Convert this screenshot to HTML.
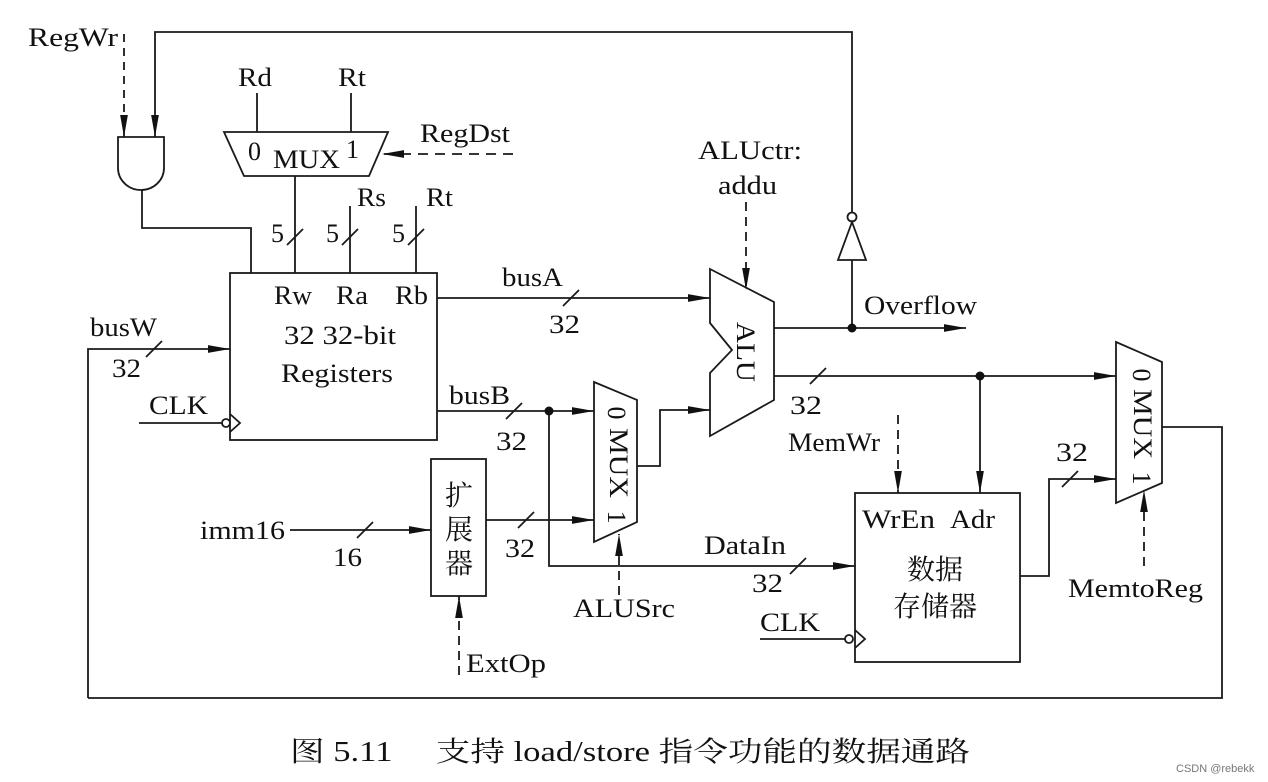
<!DOCTYPE html>
<html><head><meta charset="utf-8"><style>
html,body{margin:0;padding:0;background:#fff;}
svg{display:block;}
text{font-family:"Liberation Serif","Noto Serif CJK SC",serif;font-size:26px;fill:#111;}
.c{font-family:"Liberation Serif","Noto Serif CJK SC","Noto Sans CJK SC",serif;font-size:28px;}
</style></head><body>
<svg width="1268" height="782" viewBox="0 0 1268 782" xmlns="http://www.w3.org/2000/svg">
<defs>
<marker id="b" viewBox="0 0 20 10" refX="20" refY="5" markerWidth="22" markerHeight="11" markerUnits="userSpaceOnUse" orient="auto">
<path d="M0,1.5 L20,5 L0,8.5 z" fill="#111"/></marker>
</defs>
<g stroke="#1a1a1a" stroke-width="1.8" fill="none">
<path d="M124,34 V137" stroke-dasharray="8,6" marker-end="url(#b)"/>
<path d="M852,212 V32 H155 V137" marker-end="url(#b)"/>
<path d="M118,137 H164 V168 A23,22 0 0 1 118,168 Z"/>
<path d="M142,190 V228 H251 V273"/>
<path d="M257,93 V132 M351,93 V132"/>
<path d="M224,132 H388 L369,176 H244 Z"/>
<path d="M513,154 H382" stroke-dasharray="10,7" marker-end="url(#b)"/>
<path d="M295,176 V273 M350,206 V273 M416,206 V273"/>
<path d="M287,245 L303,229 M342,245 L358,229 M408,245 L424,229"/>
<rect x="230" y="273" width="207" height="167"/>
<path d="M88,698 V349 H230" marker-end="url(#b)"/>
<path d="M146,357 L162,341"/>
<path d="M139,423 H222"/>
<circle cx="226" cy="423" r="4"/>
<path d="M230,414 L240,423 L230,432"/>
<path d="M437,298 H710" marker-end="url(#b)"/>
<path d="M563,306 L579,290"/>
<path d="M437,411 H594" marker-end="url(#b)"/>
<path d="M506,419 L522,403"/>
<path d="M549,411 V566 H855" marker-end="url(#b)"/>
<path d="M790,574 L806,558"/>
<path d="M710,269 L774,302 V400 L710,436 V373 L732,350 L710,323 Z"/>
<path d="M746,202 V290" stroke-dasharray="9,6" marker-end="url(#b)"/>
<path d="M594,382 L637,400 V522 L594,542 Z"/>
<path d="M637,466 H660 V410 H710" marker-end="url(#b)"/>
<path d="M619,595 V534" stroke-dasharray="9,6" marker-end="url(#b)"/>
<rect x="431" y="459" width="55" height="137"/>
<path d="M290,530 H431" marker-end="url(#b)"/>
<path d="M357,538 L373,522"/>
<path d="M486,520 H594" marker-end="url(#b)"/>
<path d="M518,528 L534,512"/>
<path d="M459,675 V596" stroke-dasharray="9,6" marker-end="url(#b)"/>
<circle cx="852" cy="217" r="4.5"/>
<path d="M852,222 L838,260 H866 Z"/>
<path d="M852,260 V328"/>
<path d="M774,328 H966" marker-end="url(#b)"/>
<path d="M774,376 H1116" marker-end="url(#b)"/>
<path d="M810,384 L826,368"/>
<path d="M980,376 V493" marker-end="url(#b)"/>
<path d="M898,415 V493" stroke-dasharray="9,6" marker-end="url(#b)"/>
<rect x="855" y="493" width="165" height="169"/>
<path d="M760,639 H845"/>
<circle cx="849" cy="639" r="4"/>
<path d="M855,630 L865,639 L855,648"/>
<path d="M1020,576 H1049 V479 H1116" marker-end="url(#b)"/>
<path d="M1062,487 L1078,471"/>
<path d="M1116,342 L1162,362 V483 L1116,503 Z"/>
<path d="M1144,566 V490" stroke-dasharray="9,6" marker-end="url(#b)"/>
<path d="M1162,427 H1222 V698 H88"/>
</g>
<g fill="#111">
<circle cx="852" cy="328" r="4.5"/>
<circle cx="980" cy="376" r="4.5"/>
<circle cx="549" cy="411" r="4.5"/>
</g>
<g>
<text x="28" y="46" textLength="90" lengthAdjust="spacingAndGlyphs">RegWr</text>
<text x="238" y="86" textLength="34" lengthAdjust="spacingAndGlyphs">Rd</text>
<text x="338" y="86" textLength="28" lengthAdjust="spacingAndGlyphs">Rt</text>
<text x="248" y="160">0</text>
<text x="273" y="168" textLength="67" lengthAdjust="spacingAndGlyphs">MUX</text>
<text x="346" y="158">1</text>
<text x="420" y="142" textLength="90" lengthAdjust="spacingAndGlyphs">RegDst</text>
<text x="357" y="206" textLength="29" lengthAdjust="spacingAndGlyphs">Rs</text>
<text x="426" y="206" textLength="27" lengthAdjust="spacingAndGlyphs">Rt</text>
<text x="271" y="242">5</text>
<text x="326" y="242">5</text>
<text x="392" y="242">5</text>
<text x="274" y="304" textLength="38" lengthAdjust="spacingAndGlyphs">Rw</text>
<text x="336" y="304" textLength="32" lengthAdjust="spacingAndGlyphs">Ra</text>
<text x="395" y="304" textLength="33" lengthAdjust="spacingAndGlyphs">Rb</text>
<text x="284" y="344" textLength="112" lengthAdjust="spacingAndGlyphs">32 32-bit</text>
<text x="281" y="382" textLength="112" lengthAdjust="spacingAndGlyphs">Registers</text>
<text x="90" y="336" textLength="67" lengthAdjust="spacingAndGlyphs">busW</text>
<text x="112" y="377" textLength="29" lengthAdjust="spacingAndGlyphs">32</text>
<text x="149" y="414" textLength="59" lengthAdjust="spacingAndGlyphs">CLK</text>
<text x="502" y="286" textLength="61" lengthAdjust="spacingAndGlyphs">busA</text>
<text x="549" y="333" textLength="31" lengthAdjust="spacingAndGlyphs">32</text>
<text x="449" y="404" textLength="61" lengthAdjust="spacingAndGlyphs">busB</text>
<text x="496" y="450" textLength="31" lengthAdjust="spacingAndGlyphs">32</text>
<text x="698" y="159" textLength="104" lengthAdjust="spacingAndGlyphs">ALUctr:</text>
<text x="718" y="194" textLength="59" lengthAdjust="spacingAndGlyphs">addu</text>
<text transform="translate(743,352) rotate(90)" text-anchor="middle" dominant-baseline="middle" textLength="60" lengthAdjust="spacingAndGlyphs">ALU</text>
<text transform="translate(614,413) rotate(90)" text-anchor="middle" dominant-baseline="middle">0</text>
<text transform="translate(616,463) rotate(90)" text-anchor="middle" dominant-baseline="middle" textLength="70" lengthAdjust="spacingAndGlyphs">MUX</text>
<text transform="translate(614,517) rotate(90)" text-anchor="middle" dominant-baseline="middle">1</text>
<text x="864" y="314" textLength="113" lengthAdjust="spacingAndGlyphs">Overflow</text>
<text x="790" y="414" textLength="32" lengthAdjust="spacingAndGlyphs">32</text>
<text x="788" y="451" textLength="92" lengthAdjust="spacingAndGlyphs">MemWr</text>
<text x="1056" y="461" textLength="32" lengthAdjust="spacingAndGlyphs">32</text>
<text transform="translate(1139,375) rotate(90)" text-anchor="middle" dominant-baseline="middle">0</text>
<text transform="translate(1140,424) rotate(90)" text-anchor="middle" dominant-baseline="middle" textLength="70" lengthAdjust="spacingAndGlyphs">MUX</text>
<text transform="translate(1139,478) rotate(90)" text-anchor="middle" dominant-baseline="middle">1</text>
<text x="200" y="539" textLength="85" lengthAdjust="spacingAndGlyphs">imm16</text>
<text x="333" y="566" textLength="29" lengthAdjust="spacingAndGlyphs">16</text>
<text x="505" y="557" textLength="30" lengthAdjust="spacingAndGlyphs">32</text>
<text class="c" x="445" y="505">扩</text>
<text class="c" x="445" y="539">展</text>
<text class="c" x="445" y="573">器</text>
<text x="704" y="554" textLength="82" lengthAdjust="spacingAndGlyphs">DataIn</text>
<text x="752" y="592" textLength="31" lengthAdjust="spacingAndGlyphs">32</text>
<text x="760" y="631" textLength="60" lengthAdjust="spacingAndGlyphs">CLK</text>
<text x="862" y="528" textLength="73" lengthAdjust="spacingAndGlyphs">WrEn</text>
<text x="950" y="528" textLength="45" lengthAdjust="spacingAndGlyphs">Adr</text>
<text class="c" x="935" y="579" text-anchor="middle">数据</text>
<text class="c" x="935" y="616" text-anchor="middle">存储器</text>
<text x="573" y="617" textLength="102" lengthAdjust="spacingAndGlyphs">ALUSrc</text>
<text x="466" y="672" textLength="80" lengthAdjust="spacingAndGlyphs">ExtOp</text>
<text x="1068" y="597" textLength="135" lengthAdjust="spacingAndGlyphs">MemtoReg</text>
<text class="c" x="290" y="761" textLength="680" lengthAdjust="spacingAndGlyphs" style="font-size:28px">图 5.11　 支持 load/store 指令功能的数据通路</text>
</g>
<text x="1176" y="772" style="font-family:'Liberation Sans',sans-serif;font-size:11px;fill:#777">CSDN @rebekk</text>
</svg>
</body></html>
